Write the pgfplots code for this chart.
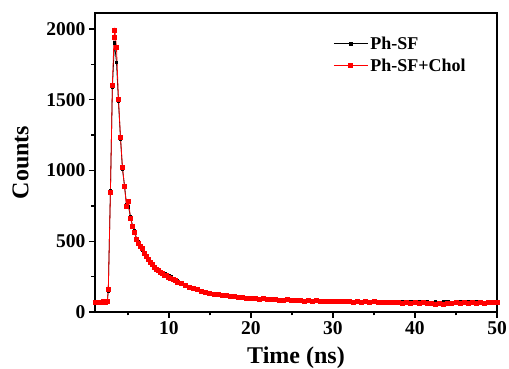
\documentclass[border=0pt]{standalone}
\usepackage{fontspec}
\setmainfont{Liberation Serif}
\usepackage{pgfplots}
\pgfplotsset{compat=1.18}
\usetikzlibrary{calc}
\begin{document}
\begin{tikzpicture}
\begin{axis}[name=ax,
  scale only axis, width=402pt, height=299pt,
  xmin=1, xmax=50, ymin=0, ymax=2113,
  xtick={10,20,30,40,50}, minor xtick={5,15,25,35,45},
  ytick={0,500,1000,1500,2000}, minor ytick={250,750,1250,1750},
  xtick pos=left, ytick pos=left,
  tick align=outside,
  major tick length=6pt, minor tick length=3.5pt,
  every tick/.style={black, line width=1.4pt},
  axis line style={line width=2.2pt},
  /pgf/number format/assume math mode=true,
  /pgf/number format/1000 sep={},
  ticklabel style={font=\fontsize{19.5}{19.5}\selectfont\bfseries},
  xlabel={Time (ns)}, ylabel={Counts},
  label style={font=\fontsize{24}{24}\selectfont\bfseries},
  xlabel style={yshift=-5pt},
  ylabel style={yshift=11pt},
  legend style={at={(0.585,0.935)}, anchor=north west, draw=none, fill=none,
    font=\fontsize{18}{18}\selectfont\bfseries, row sep=4pt},
  legend cell align=left,
  legend image code/.code={\draw[mark repeat=2,mark phase=2,#1] plot coordinates {(0cm,0cm) (0.6cm,0cm) (1.2cm,0cm)};},
]
\addplot[black, line width=0.8pt, mark=square*, mark size=1.3pt] coordinates {
(1.0,72)(1.25,68)(1.5,74)(1.75,71)(2.0,77)(2.25,80)(2.5,72)(2.62,150)(2.88,855)(3.12,1590)(3.37,1900)(3.62,1764)(3.86,1490)(4.11,1225)(4.35,1010)(4.6,892)(4.84,760)(5.09,742)(5.33,672)(5.57,612)(5.82,575)(6.06,520)(6.3,495)(6.55,470)(6.79,440)(7.03,420)(7.28,398)(7.52,380)(7.76,356)(8.0,340)(8.25,322)(8.5,308)(8.75,297)(9.0,286)(9.25,276)(9.5,268)(9.75,260)(10.0,254)(10.25,246)(10.5,236)(10.75,226)(11.0,218)(11.5,208)(12.0,192)(12.5,182)(13.0,170)(13.5,160)(14.0,150)(14.5,143)(15.0,136)(15.5,131)(16.0,126)(16.5,122)(17.0,118)(17.5,114)(18.0,111)(18.5,107)(19.0,105)(19.5,101)(20.0,99)(20.5,96)(21.0,94)(21.5,92)(22.0,91)(22.5,89)(23.0,87)(23.5,88)(24.0,85)(24.5,84)(25.0,86)(25.5,82)(26.0,81)(26.5,83)(27.0,79)(27.5,81)(28.0,77)(28.5,80)(29.0,76)(29.5,79)(30.0,75)(30.5,78)(31.0,74)(31.5,77)(32.0,73)(32.5,76)(33.0,72)(33.5,75)(34.0,71)(34.5,74)(35.0,70)(35.5,73)(36.0,69)(36.5,72)(37.0,68)(37.5,71)(38.0,70)(38.5,72)(39.0,67)(39.5,70)(40.0,69)(40.5,71)(41.0,66)(41.5,70)(42.0,68)(42.5,71)(43.0,67)(43.5,70)(44.0,72)(44.5,68)(45.0,71)(45.5,73)(46.0,69)(46.5,72)(47.0,70)(47.5,73)(48.0,71)(48.5,69)(49.0,72)(49.5,70)(50.0,71)
};
\addlegendentry{Ph-SF}
\addplot[red, line width=0.8pt, mark=square*, mark size=2pt] coordinates {
(1.0,68)(1.25,71)(1.5,66)(1.75,70)(2.0,73)(2.25,69)(2.5,76)(2.62,160)(2.88,843)(3.12,1602)(3.32,1941)(3.42,1990)(3.62,1868)(3.86,1503)(4.11,1232)(4.35,1020)(4.6,886)(4.84,749)(5.09,780)(5.33,662)(5.57,605)(5.82,560)(6.06,512)(6.3,488)(6.55,462)(6.79,448)(7.03,412)(7.28,391)(7.52,372)(7.76,348)(8.0,333)(8.25,316)(8.5,302)(8.75,292)(9.0,280)(9.25,274)(9.5,262)(9.75,256)(10.0,248)(10.25,240)(10.5,228)(10.75,222)(11.0,212)(11.5,202)(12.0,186)(12.5,176)(13.0,165)(13.5,157)(14.0,146)(14.5,139)(15.0,133)(15.5,127)(16.0,122)(16.5,119)(17.0,116)(17.5,111)(18.0,108)(18.5,104)(19.0,103)(19.5,99)(20.0,96)(20.5,94)(21.0,91)(21.5,93)(22.0,88)(22.5,86)(23.0,89)(23.5,84)(24.0,82)(24.5,86)(25.0,81)(25.5,79)(26.0,83)(26.5,78)(27.0,80)(27.5,76)(28.0,79)(28.5,75)(29.0,78)(29.5,74)(30.0,76)(30.5,73)(31.0,77)(31.5,72)(32.0,75)(32.5,71)(33.0,74)(33.5,70)(34.0,73)(34.5,69)(35.0,72)(35.5,68)(36.0,71)(36.5,67)(37.0,70)(37.5,66)(38.0,69)(38.5,64)(39.0,68)(39.5,63)(40.0,66)(40.5,62)(41.0,65)(41.5,58)(42.0,64)(42.5,56)(43.0,62)(43.5,55)(44.0,63)(44.5,60)(45.0,65)(45.5,61)(46.0,66)(46.5,62)(47.0,67)(47.5,63)(48.0,66)(48.5,64)(49.0,67)(49.5,65)(50.0,66)
};
\addlegendentry{Ph-SF+Chol}
\end{axis}
\pgfresetboundingbox
\useasboundingbox ($(ax.south west)+(-95pt,-57pt)$) rectangle ($(ax.north east)+(12pt,13pt)$);
\end{tikzpicture}
\end{document}
